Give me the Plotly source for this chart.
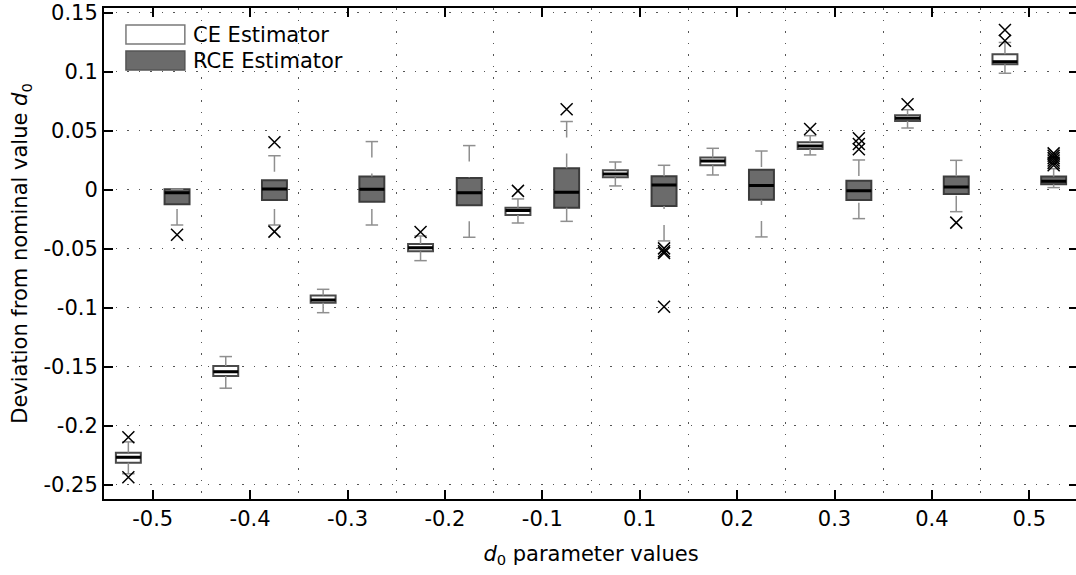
import plotly.graph_objects as go

# ---------------- data ----------------
categories = ["-0.5", "-0.4", "-0.3", "-0.2", "-0.1", "0.1", "0.2", "0.3", "0.4", "0.5"]

ce_lower = [-0.2405, -0.168, -0.104, -0.0599, -0.028, 0.0034, 0.0127, 0.0297, 0.0525, 0.0989]
ce_q1 = [-0.2311, -0.1576, -0.0955, -0.052, -0.0212, 0.0108, 0.0209, 0.0347, 0.0585, 0.1065]
ce_median = [-0.2265, -0.154, -0.0932, -0.0489, -0.0175, 0.0136, 0.0246, 0.0373, 0.0607, 0.1087]
ce_q3 = [-0.2226, -0.1492, -0.0895, -0.0458, -0.015, 0.0167, 0.0274, 0.0404, 0.0633, 0.115]
ce_upper = [-0.2135, -0.1412, -0.0842, -0.039, -0.0076, 0.0237, 0.0353, 0.046, 0.068, 0.125]
ce_outliers = [[-0.2095, -0.2435], [], [], [-0.0356], [-0.0008], [], [], [0.0517], [0.0726],
               [0.1355, 0.1265]]

rce_lower = [-0.0297, -0.0297, -0.0297, -0.0401, -0.0266, -0.0432, -0.0398, -0.0243, -0.0184, 0.002]
rce_q1 = [-0.0121, -0.0085, -0.0099, -0.013, -0.015, -0.0136, -0.0082, -0.0085, -0.0034, 0.0048]
rce_median = [-0.0023, 0.0008, 0.0006, -0.0023, -0.002, 0.0042, 0.0037, -0.0006, 0.0025, 0.0074]
rce_q3 = [0.0006, 0.0082, 0.0113, 0.0102, 0.0184, 0.0116, 0.0172, 0.0079, 0.0113, 0.0113]
rce_upper = [0.0006, 0.029, 0.041, 0.0376, 0.058, 0.0209, 0.033, 0.0254, 0.0251, 0.018]
rce_outliers = [[-0.038], [0.0404, -0.0353], [], [], [0.0684], [-0.0495, -0.052, -0.0535, -0.0989],
                [], [0.0438, 0.039, 0.0345], [-0.0277], [0.031, 0.029, 0.027, 0.025, 0.023, 0.021]]

y_tick_values = [0.15, 0.1, 0.05, 0, -0.05, -0.1, -0.15, -0.2, -0.25]
y_tick_labels = ["0.15", "0.1", "0.05", "0", "-0.05", "-0.1", "-0.15", "-0.2", "-0.25"]

# ---------------- style ----------------
FONT = "DejaVu Sans"
FS = 21
OFFSET = 0.25
BOXW = 0.256
CAP_HALF = BOXW / 4
WHISKER = "#8f8f8f"
CE_FILL, CE_EDGE = "#ffffff", "#4a4a4a"
RCE_FILL, RCE_EDGE = "#6b6b6b", "#3c3c3c"

pos = list(range(1, len(categories) + 1))
ce_x = [p - OFFSET for p in pos]
rce_x = [p + OFFSET for p in pos]

fig = go.Figure()


def add_group(xs, lo, q1, med, q3, hi, outs, fill, edge):
    # dashed whiskers (drawn from the fence toward the box)
    wx, wy = [], []
    cx, cy = [], []
    for x, a, b, c, d in zip(xs, lo, q1, q3, hi):
        if d > c:
            wx += [x, x, None]
            wy += [d, c, None]
        if a < b:
            wx += [x, x, None]
            wy += [a, b, None]
        cx += [x - CAP_HALF, x + CAP_HALF, None, x - CAP_HALF, x + CAP_HALF, None]
        cy += [d, d, None, a, a, None]
    fig.add_trace(go.Scatter(x=wx, y=wy, mode="lines", hoverinfo="skip",
                             line=dict(color=WHISKER, width=1.5, dash="16px,16px"),
                             showlegend=False))
    fig.add_trace(go.Scatter(x=cx, y=cy, mode="lines", hoverinfo="skip",
                             line=dict(color=WHISKER, width=1.5), showlegend=False))
    # box body
    fig.add_trace(go.Box(x=xs, q1=q1, median=med, q3=q3, lowerfence=q1, upperfence=q3,
                         width=BOXW, whiskerwidth=0, fillcolor=fill,
                         line=dict(color=edge, width=2), boxpoints=False,
                         showlegend=False))
    # median bar
    fig.add_trace(go.Box(x=xs, q1=med, median=med, q3=med, lowerfence=med, upperfence=med,
                         width=BOXW, whiskerwidth=0, fillcolor="rgba(0,0,0,0)",
                         line=dict(color="#000000", width=3), boxpoints=False,
                         showlegend=False, hoverinfo="skip"))
    ox, oy = [], []
    for x, vals in zip(xs, outs):
        for v in vals:
            ox.append(x)
            oy.append(v)
    fig.add_trace(go.Scatter(x=ox, y=oy, mode="markers",
                             marker=dict(symbol="x-thin-open", size=12, color="#000000",
                                         line=dict(width=1.5, color="#000000")),
                             showlegend=False))


add_group(ce_x, ce_lower, ce_q1, ce_median, ce_q3, ce_upper, ce_outliers, CE_FILL, CE_EDGE)
add_group(rce_x, rce_lower, rce_q1, rce_median, rce_q3, rce_upper, rce_outliers, RCE_FILL, RCE_EDGE)

# ---------------- layout ----------------
W, H = 1080, 575
L, R, T, B = 104, 0, 8, 76
pw, ph = W - L - R, H - T - B


def px(xp):
    return (xp - L) / pw


def py(yp):
    return (H - B - yp) / ph


fig.add_shape(type="rect", xref="paper", yref="paper", x0=px(126), x1=px(185), y0=py(44), y1=py(25),
              fillcolor=CE_FILL, line=dict(color="#7a7a7a", width=1.5))
fig.add_shape(type="rect", xref="paper", yref="paper", x0=px(126), x1=px(185), y0=py(70), y1=py(51),
              fillcolor=RCE_FILL, line=dict(color="#555555", width=1.5))
fig.add_annotation(xref="paper", yref="paper", x=px(191), y=py(35), text="CE Estimator",
                   showarrow=False, xanchor="left", yanchor="middle",
                   font=dict(family=FONT, size=FS, color="#000"))
fig.add_annotation(xref="paper", yref="paper", x=px(191), y=py(61), text="RCE Estimator",
                   showarrow=False, xanchor="left", yanchor="middle",
                   font=dict(family=FONT, size=FS, color="#000"))

DOT = "1.5px,10px"
fig.update_layout(
    width=W, height=H,
    margin=dict(l=L, r=R, t=T, b=B),
    paper_bgcolor="#ffffff", plot_bgcolor="#ffffff",
    boxmode="overlay",
    font=dict(family=FONT, size=FS, color="#000000"),
    xaxis=dict(
        range=[0.5, 10.5],
        tickmode="array", tickvals=pos, ticktext=categories,
        ticks="inside", ticklen=9, tickwidth=1.5, tickcolor="#000",
        showline=True, linecolor="#000", linewidth=2, mirror="ticks",
        showgrid=False, zeroline=False,
        minor=dict(tick0=0.5, dtick=1, showgrid=True, gridcolor="#555555",
                   gridwidth=1.2, griddash=DOT, ticks=""),
        title=dict(text="<i>d</i><sub>0</sub> parameter values", standoff=16,
                   font=dict(family=FONT, size=FS)),
        tickfont=dict(family=FONT, size=FS),
    ),
    yaxis=dict(
        range=[-0.2619, 0.1542],
        tickmode="array", tickvals=y_tick_values, ticktext=y_tick_labels,
        ticks="inside", ticklen=9, tickwidth=1.5, tickcolor="#000",
        showline=True, linecolor="#000", linewidth=2, mirror="ticks",
        showgrid=True, gridcolor="#555555", gridwidth=1.2, griddash=DOT,
        zeroline=False, ticklabeloverflow="allow",
        title=dict(text="Deviation from nominal value <i>d</i><sub>0</sub>", standoff=10,
                   font=dict(family=FONT, size=FS)),
        tickfont=dict(family=FONT, size=FS),
    ),
)

fig.write_html("out.html", config={"displayModeBar": False},
               post_script="document.body.style.margin='0';document.body.style.overflow='hidden';")
